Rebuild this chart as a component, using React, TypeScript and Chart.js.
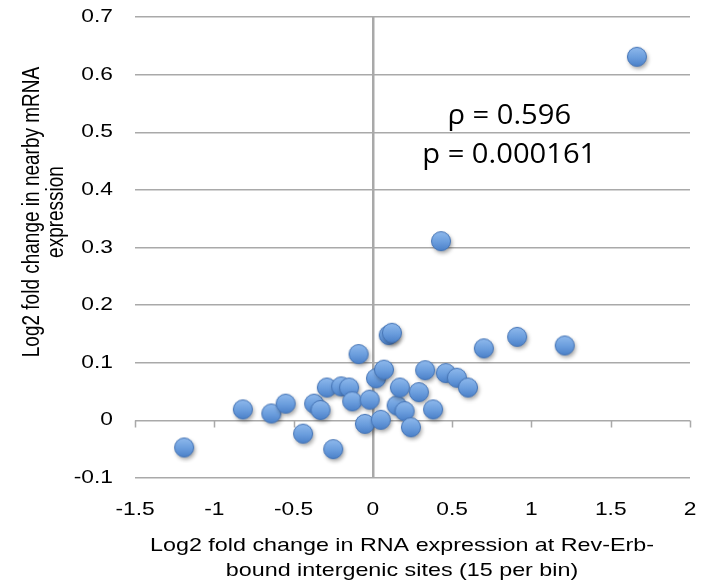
import React, { useEffect, useRef } from "react";
import { Chart, registerables } from "chart.js";

Chart.register(...registerables);

// Log2 fold change at Rev-Erb-bound intergenic sites (binned) vs nearby mRNA change
const xValues = [
  -1.19, -0.82, -0.64, -0.55, -0.44, -0.37, -0.33, -0.25, -0.29, -0.2, -0.15, -0.13,
  -0.09, -0.05, -0.02, 0.02, 0.05, 0.07, 0.1, 0.12, 0.15, 0.17, 0.2, 0.24, 0.29, 0.33,
  0.38, 0.43, 0.46, 0.53, 0.6, 0.7, 0.91, 1.21, 1.665,
];
const yValues = [
  -0.047, 0.019, 0.012, 0.029, -0.023, 0.029, 0.018, -0.05, 0.057, 0.059, 0.057, 0.033,
  0.115, -0.006, 0.036, 0.073, 0.001, 0.088, 0.148, 0.152, 0.026, 0.057, 0.016, -0.012,
  0.049, 0.087, 0.019, 0.311, 0.082, 0.074, 0.057, 0.125, 0.145, 0.13, 0.631,
];

const xTicks = [-1.5, -1, -0.5, 0, 0.5, 1, 1.5, 2];
const yTicks = [-0.1, 0, 0.1, 0.2, 0.3, 0.4, 0.5, 0.6, 0.7];

const xTitleLines = ["Log2 fold change in RNA expression at Rev-Erb-", "bound intergenic sites (15 per bin)"];
const yTitleLines = ["Log2 fold change in nearby mRNA", "expression"];
const statLines = ["\u03c1 = 0.596", "p = 0.000161"];
// data-space anchor of the statistics text (centre of each line)
const statX = 0.86;
const statY = [0.527, 0.46];

const AXIS_FONT = "'Liberation Sans', Arial, Helvetica, sans-serif";
const STAT_FONT = "'Open Sans', 'Noto Sans', sans-serif";
const GRID = "#a9a9a9";
const TEXT_SIZE = 18.5;
const WIDE = 1.23; // horizontal widening of the axis lettering
const TITLE_WIDE = 1.26;

const fmt = (v: number) => String(Number(v.toFixed(2)));

// glossy blue marker with a soft drop shadow
function makeMarker(): HTMLCanvasElement {
  const s = 32;
  const c = document.createElement("canvas");
  c.width = s;
  c.height = s;
  const g = c.getContext("2d")!;
  const cx = s / 2;
  const cy = s / 2;
  const r = 9.5;
  g.save();
  g.shadowColor = "rgba(0,0,0,0.38)";
  g.shadowBlur = 4;
  g.shadowOffsetX = 1.5;
  g.shadowOffsetY = 2.5;
  g.beginPath();
  g.arc(cx, cy, r, 0, Math.PI * 2);
  g.fillStyle = "#5d90d3";
  g.fill();
  g.restore();
  const grad = g.createLinearGradient(0, cy - r, 0, cy + r);
  grad.addColorStop(0, "#8fb9ec");
  grad.addColorStop(0.55, "#6a9ddd");
  grad.addColorStop(1, "#4b80c8");
  g.beginPath();
  g.arc(cx, cy, r, 0, Math.PI * 2);
  g.fillStyle = grad;
  g.fill();
  g.lineWidth = 1;
  g.strokeStyle = "#4574b5";
  g.stroke();
  return c;
}

// axis line through y = 0 with downward tick marks at each x tick
const zeroAxisTicks = {
  id: "zeroAxisTicks",
  beforeDatasetsDraw(chart: any) {
    const { ctx, scales } = chart;
    const xs = scales.x;
    const ys = scales.y;
    const y0 = Math.round(ys.getPixelForValue(0)) + 0.5;
    ctx.save();
    ctx.strokeStyle = GRID;
    ctx.lineWidth = 1.5;
    ctx.beginPath();
    for (const t of xTicks) {
      const px = Math.round(xs.getPixelForValue(t)) + 0.5;
      ctx.moveTo(px, y0);
      ctx.lineTo(px, y0 + 7);
    }
    ctx.stroke();
    ctx.restore();
  },
};

// draws a line of text widened horizontally, anchored at (x, y)
function wideText(
  ctx: CanvasRenderingContext2D,
  text: string,
  x: number,
  y: number,
  align: CanvasTextAlign,
  k: number = WIDE
) {
  ctx.save();
  ctx.translate(x, y);
  ctx.scale(k, 1);
  ctx.textAlign = align;
  ctx.fillText(text, 0, 0);
  ctx.restore();
}

// tick labels, axis titles and the correlation statistics
const textLayer = {
  id: "textLayer",
  afterDraw(chart: any) {
    const { ctx, scales, chartArea } = chart;
    const xs = scales.x;
    const ys = scales.y;
    ctx.save();
    ctx.fillStyle = "#000";
    ctx.textBaseline = "middle";
    ctx.font = `${TEXT_SIZE}px ${AXIS_FONT}`;

    xs.ticks.forEach((t: any) => {
      wideText(ctx, fmt(t.value), xs.getPixelForValue(t.value), chartArea.bottom + 32, "center");
    });
    ys.ticks.forEach((t: any) => {
      wideText(ctx, fmt(t.value), chartArea.left - 22, ys.getPixelForValue(t.value), "right");
    });

    xTitleLines.forEach((line, i) => wideText(ctx, line, 402, 546 + i * 25, "center", TITLE_WIDE));

    ctx.font = `19px ${AXIS_FONT}`;
    yTitleLines.forEach((line, i) => {
      ctx.save();
      ctx.translate(33 + i * 24, 212);
      ctx.rotate(-Math.PI / 2);
      ctx.scale(1, WIDE);
      ctx.textAlign = "center";
      ctx.fillText(line, 0, 0);
      ctx.restore();
    });

    ctx.font = `27px ${STAT_FONT}`;
    const sx = xs.getPixelForValue(statX);
    statLines.forEach((line, i) => {
      ctx.save();
      ctx.translate(sx, ys.getPixelForValue(statY[i]));
      ctx.scale(1.08, 1);
      ctx.textAlign = "center";
      ctx.fillText(line, 0, 0);
      ctx.restore();
    });
    ctx.restore();
  },
};

export default function App() {
  const ref = useRef<HTMLCanvasElement | null>(null);

  useEffect(() => {
    if (!ref.current) return;
    const marker = makeMarker();
    const points = xValues.map((x, i) => ({ x, y: yValues[i] }));
    const chart = new Chart(ref.current, {
      type: "scatter",
      data: {
        datasets: [
          {
            data: points,
            pointStyle: marker as any,
            pointRadius: 10,
            pointHoverRadius: 10,
          },
        ],
      },
      options: {
        animation: false,
        responsive: true,
        maintainAspectRatio: false,
        events: [],
        layout: { padding: { left: 0, right: 9, top: 17, bottom: 0 } },
        plugins: { legend: { display: false }, tooltip: { enabled: false } },
        scales: {
          x: {
            type: "linear",
            min: -1.5,
            max: 2,
            afterBuildTicks: (axis: any) => {
              axis.ticks = xTicks.map((v) => ({ value: v }));
            },
            afterFit: (axis: any) => {
              axis.height = 107;
              axis.paddingLeft = 0;
              axis.paddingRight = 0;
            },
            border: { display: false },
            grid: {
              drawTicks: false,
              lineWidth: 2.5,
              color: (c: any) => (c.tick && Math.abs(c.tick.value) < 1e-9 ? GRID : "rgba(0,0,0,0)"),
            },
            ticks: { display: false, autoSkip: false },
          },
          y: {
            type: "linear",
            min: -0.1,
            max: 0.7,
            afterBuildTicks: (axis: any) => {
              axis.ticks = yTicks.map((v) => ({ value: v }));
            },
            afterFit: (axis: any) => {
              axis.width = 135;
              axis.paddingTop = 0;
              axis.paddingBottom = 0;
            },
            border: { display: false },
            grid: { drawTicks: false, lineWidth: 1.5, color: GRID },
            ticks: { display: false, autoSkip: false },
          },
        },
      },
      plugins: [zeroAxisTicks, textLayer],
    });
    return () => chart.destroy();
  }, []);

  return (
    <div style={{ position: "absolute", left: 0, top: 0, width: 701, height: 585, background: "#fff" }}>
      <canvas ref={ref} />
    </div>
  );
}
